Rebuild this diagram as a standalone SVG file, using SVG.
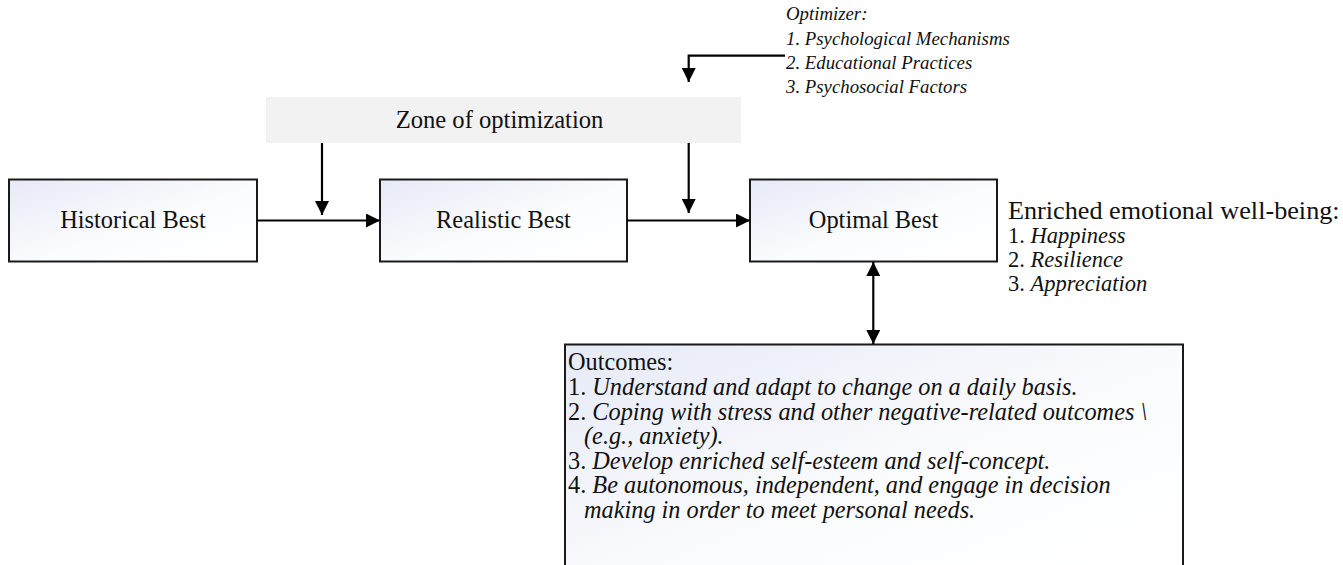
<svg xmlns="http://www.w3.org/2000/svg" width="1343" height="565" viewBox="0 0 1343 565">
  <style>
    .box { stroke: #1a1a1a; stroke-width: 2; fill: url(#boxFill); }
    .lbl { font-family: "Liberation Serif", "Times New Roman", serif; fill: #111; }
    .center { text-anchor: middle; }
    .it { font-style: italic; }
    .wire { stroke: #000; stroke-width: 2.2; fill: none; }
  </style>
  <defs>
    <linearGradient id="boxFill" x1="0" y1="0" x2="1" y2="1">
      <stop offset="0" stop-color="#e6eaf6"/>
      <stop offset="0.55" stop-color="#fbfcfe"/>
      <stop offset="1" stop-color="#ffffff"/>
    </linearGradient>
    <marker id="head" viewBox="0 0 14 14" refX="14" refY="7" markerWidth="14" markerHeight="14" markerUnits="userSpaceOnUse" orient="auto-start-reverse">
      <path d="M0,0 L14,7 L0,14 Z" fill="#000"/>
    </marker>
  </defs>

  <rect width="1343" height="565" fill="#fff"/>

  <!-- shaded band across the top -->
  <g id="zone">
    <rect x="266" y="97" width="475" height="46" fill="#f2f2f2"/>
    <text class="lbl center" x="499.5" y="128" font-size="24.6">Zone of optimization</text>
  </g>

  <g id="historical">
    <rect class="box" x="9" y="179.5" width="248" height="82"/>
    <text class="lbl center" x="133" y="228" font-size="24.4">Historical Best</text>
  </g>

  <g id="realistic">
    <rect class="box" x="380" y="179.5" width="247" height="82"/>
    <text class="lbl center" x="503.5" y="228" font-size="24.4">Realistic Best</text>
  </g>

  <g id="optimal">
    <rect class="box" x="750" y="179.5" width="247" height="82"/>
    <text class="lbl center" x="873.5" y="228" font-size="24.4">Optimal Best</text>
  </g>

  <g id="optimizer">
    <text class="lbl it" x="786" font-size="18.8">
      <tspan x="786" y="20">Optimizer:</tspan>
      <tspan x="786" y="45">1. Psychological Mechanisms</tspan>
      <tspan x="786" y="69">2. Educational Practices</tspan>
      <tspan x="786" y="93">3. Psychosocial Factors</tspan>
    </text>
  </g>

  <g id="wellbeing">
    <text class="lbl" x="1008">
      <tspan x="1008" y="219" font-size="26.2">Enriched emotional well-being:</tspan>
      <tspan x="1008" y="243" font-size="22.5">1. <tspan class="it">Happiness</tspan></tspan>
      <tspan x="1008" y="267" font-size="22.5">2. <tspan class="it">Resilience</tspan></tspan>
      <tspan x="1008" y="291" font-size="22.5">3. <tspan class="it">Appreciation</tspan></tspan>
    </text>
  </g>

  <g id="outcomes">
    <rect class="box" x="565" y="344.5" width="618" height="240"/>
    <text class="lbl" font-size="24.3">
      <tspan x="568" y="370">Outcomes:</tspan>
      <tspan x="568" y="395">1. <tspan class="it">Understand and adapt to change on a daily basis.</tspan></tspan>
      <tspan x="568" y="419.5">2. <tspan class="it">Coping with stress and other negative-related outcomes \</tspan></tspan>
      <tspan x="584" y="444" class="it">(e.g., anxiety).</tspan>
      <tspan x="568" y="468.5">3. <tspan class="it">Develop enriched self-esteem and self-concept.</tspan></tspan>
      <tspan x="568" y="493">4. <tspan class="it">Be autonomous, independent, and engage in decision</tspan></tspan>
      <tspan x="584" y="517.5" class="it">making in order to meet personal needs.</tspan>
    </text>
  </g>

  <g id="connectors">
    <line class="wire" x1="257" y1="220.5" x2="380" y2="220.5" marker-end="url(#head)"/>
    <line class="wire" x1="627" y1="220.5" x2="750" y2="220.5" marker-end="url(#head)"/>
    <line class="wire" x1="322" y1="143" x2="322" y2="215" marker-end="url(#head)"/>
    <line class="wire" x1="688.7" y1="143" x2="688.7" y2="213" marker-end="url(#head)"/>
    <polyline class="wire" points="785,55.7 688.7,55.7 688.7,82" marker-end="url(#head)"/>
    <line class="wire" x1="873.3" y1="262" x2="873.3" y2="344" marker-start="url(#head)" marker-end="url(#head)"/>
  </g>
</svg>
